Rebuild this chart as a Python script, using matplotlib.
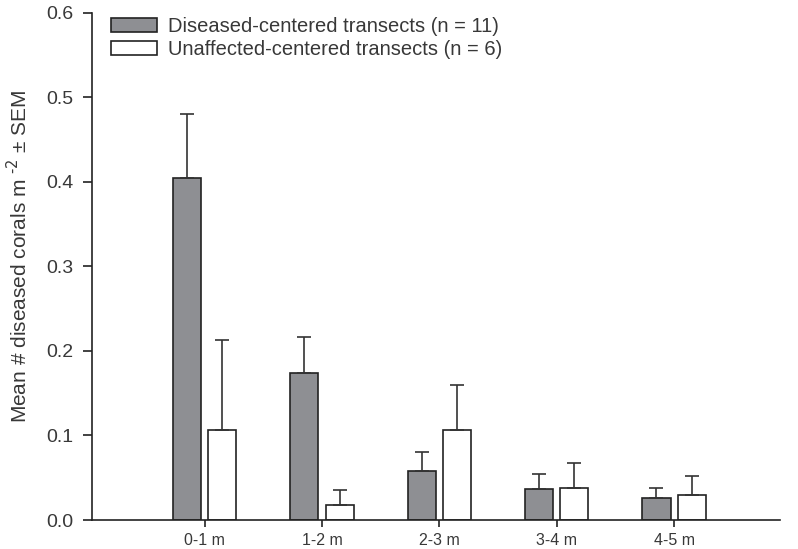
import matplotlib
matplotlib.use("Agg")
import matplotlib.pyplot as plt
import numpy as np

plt.rcParams['font.family'] = ['Liberation Sans', 'DejaVu Sans']

categories = ["0-1 m", "1-2 m", "2-3 m", "3-4 m", "4-5 m"]
diseased_mean = [0.405, 0.174, 0.058, 0.037, 0.026]
diseased_sem = [0.075, 0.043, 0.022, 0.018, 0.012]
unaffected_mean = [0.106, 0.018, 0.106, 0.038, 0.029]
unaffected_sem = [0.107, 0.017, 0.054, 0.030, 0.023]
series_labels = ["Diseased-centered transects (n = 11)", "Unaffected-centered transects (n = 6)"]

fig = plt.figure(figsize=(7.98, 5.49), dpi=100)
ax = fig.add_axes([0.1153, 0.0528, 0.977 - 0.1153, 0.977 - 0.0528])

x = np.arange(len(categories))
w = 0.24
off = 0.15
txt = '#383838'
ek = dict(ecolor='#333333', elinewidth=1.2, capsize=5.3, capthick=1.2)

ax.bar(x - off, diseased_mean, w, color='#8e8f93', edgecolor='#222222', linewidth=1.2,
       yerr=[np.zeros(len(x)), diseased_sem], error_kw=ek, label=series_labels[0], zorder=2)
ax.bar(x + off, unaffected_mean, w, color='white', edgecolor='#222222', linewidth=1.2,
       yerr=[np.zeros(len(x)), unaffected_sem], error_kw=ek, label=series_labels[1], zorder=2)

ax.set_xlim(-0.96, 4.9)
ax.set_ylim(0, 0.6)
ax.set_yticks(np.arange(0, 0.61, 0.1))
ax.set_yticklabels([f"{v:.1f}" for v in np.arange(0, 0.61, 0.1)])
ax.set_xticks(x)
ax.set_xticklabels(categories)

for s in ['top', 'right']:
    ax.spines[s].set_visible(False)
for s in ['left', 'bottom']:
    ax.spines[s].set_linewidth(1.2)
    ax.spines[s].set_color('#222222')

ax.tick_params(axis='y', direction='out', length=6.5, width=1.2, labelsize=14, colors='#222222', labelcolor=txt, pad=7)
ax.tick_params(axis='x', direction='out', length=5, width=1.2, labelsize=11.5, colors='#222222', labelcolor=txt, pad=4)

ax.set_ylabel(r"Mean # diseased corals m $^{\text{-}2}$ ± SEM", fontsize=15, color=txt)
ax.yaxis.set_label_coords(-0.089, 0.52)

leg = ax.legend(loc='upper left', bbox_to_anchor=(0.0276, 0.992), frameon=False, fontsize=14.5,
                borderpad=0, borderaxespad=0,
                handlelength=2.29, handleheight=0.7, handletextpad=0.55, labelspacing=0.2,
                labelcolor=txt)

fig.savefig("out.png", dpi=100)
